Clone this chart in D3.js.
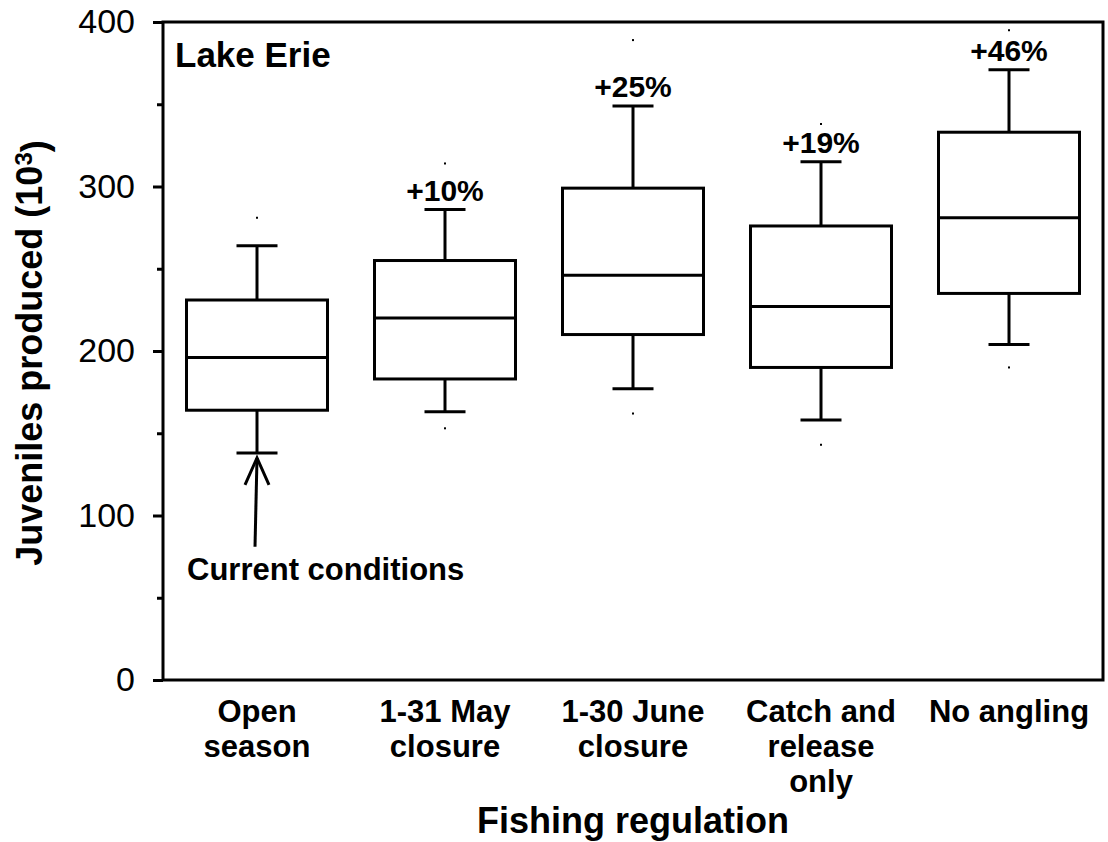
<!DOCTYPE html>
<html>
<head>
<meta charset="utf-8">
<script src="https://cdn.jsdelivr.net/npm/d3@7"></script>
<style>
  body { margin: 0; background: #fff; }
  text { font-family: "Liberation Sans", Arial, sans-serif; fill: #000; }
</style>
</head>
<body>
<script>
var w = 1108, h = 842;
var plotL = 163, plotR = 1103, plotT = 22, plotB = 680;

// regulation scenarios, one line per tspan
var categories = [
    ["Open", "season"],
    ["1-31 May", "closure"],
    ["1-30 June", "closure"],
    ["Catch and", "release", "only"],
    ["No angling"]
];
// box plot stats, juveniles produced (10^3)
var whiskerLow  = [138, 163, 177, 158, 204];
var q1          = [164, 183, 210, 190, 235];
var median      = [196, 220, 246, 227, 281];
var q3          = [231, 255, 299, 276, 333];
var whiskerHigh = [264, 286, 349, 315, 371];
var outlierLow  = [null, 153, 162, 143, 190];
var outlierHigh = [281, 314, 389, 338, 395];
var changeLabels = ["", "+10%", "+25%", "+19%", "+46%"];

var majorTicks = [0, 100, 200, 300, 400];
var minorTicks = [50, 150, 250, 350];

// "current conditions" arrow, in data units
var arrowTip = 135, arrowTail = 81, noteValue = 61;

var data = categories.map(function(c, i){
    return {cat: c, i: i, lo: whiskerLow[i], q1: q1[i], med: median[i], q3: q3[i],
            hi: whiskerHigh[i], olo: outlierLow[i], ohi: outlierHigh[i], lab: changeLabels[i]};
});

var svg = d3.select("body").append("svg")
    .attr("width", w)
    .attr("height", h);

var x = d3.scaleBand()
    .domain(d3.range(categories.length))
    .range([plotL, plotR]);

var y = d3.scaleLinear()
    .domain([0, 400])
    .range([plotB, plotT]);

var boxW = x.bandwidth() * 0.75;
var capW = 41;
function cx(d){ return x(d.i) + x.bandwidth() / 2; }

// y axis, major + minor ticks
var yAxis = svg.append("g")
    .attr("transform", "translate(" + plotL + ",0)")
    .call(d3.axisLeft(y).tickValues(majorTicks).tickSize(10).tickPadding(18));
yAxis.select(".domain").remove();
yAxis.selectAll("line").attr("stroke", "#000").attr("stroke-width", 3);
yAxis.selectAll("text")
    .style("font-family", '"Liberation Sans", Arial, sans-serif')
    .style("font-size", "34px")
    .attr("fill", "#000");

var yMinor = svg.append("g")
    .attr("transform", "translate(" + plotL + ",0)")
    .call(d3.axisLeft(y).tickValues(minorTicks).tickSize(6).tickFormat(""));
yMinor.select(".domain").remove();
yMinor.selectAll("line").attr("stroke", "#000").attr("stroke-width", 3);

// x axis labels
var xAxis = svg.append("g")
    .attr("transform", "translate(0," + plotB + ")")
    .call(d3.axisBottom(x).tickSize(0).tickFormat(""));
xAxis.select(".domain").remove();
xAxis.selectAll(".tick").each(function(i){
    var t = d3.select(this).append("text")
        .attr("text-anchor", "middle")
        .style("font-size", "31px")
        .style("font-weight", "bold");
    categories[i].forEach(function(line, k){
        t.append("tspan")
            .attr("x", 0)
            .attr("y", 42 + k * 35)
            .text(line);
    });
});

// frame
svg.append("rect")
    .attr("x", plotL)
    .attr("y", plotT)
    .attr("width", plotR - plotL)
    .attr("height", plotB - plotT)
    .attr("fill", "none")
    .attr("stroke", "#000")
    .attr("stroke-width", 3);

var boxes = svg.selectAll("g.box")
    .data(data)
    .enter()
    .append("g")
    .attr("class", "box");

// whisker stems
boxes.append("line")
    .attr("x1", cx).attr("x2", cx)
    .attr("y1", function(d){ return y(d.lo); })
    .attr("y2", function(d){ return y(d.hi); })
    .attr("stroke", "#000").attr("stroke-width", 3);

// caps
["lo", "hi"].forEach(function(k){
    boxes.append("line")
        .attr("x1", function(d){ return cx(d) - capW / 2; })
        .attr("x2", function(d){ return cx(d) + capW / 2; })
        .attr("y1", function(d){ return y(d[k]); })
        .attr("y2", function(d){ return y(d[k]); })
        .attr("stroke", "#000").attr("stroke-width", 3);
});

boxes.append("rect")
    .attr("x", function(d){ return cx(d) - boxW / 2; })
    .attr("y", function(d){ return y(d.q3); })
    .attr("width", boxW)
    .attr("height", function(d){ return y(d.q1) - y(d.q3); })
    .attr("fill", "#fff")
    .attr("stroke", "#000")
    .attr("stroke-width", 3);

boxes.append("line")
    .attr("x1", function(d){ return cx(d) - boxW / 2; })
    .attr("x2", function(d){ return cx(d) + boxW / 2; })
    .attr("y1", function(d){ return y(d.med); })
    .attr("y2", function(d){ return y(d.med); })
    .attr("stroke", "#000").attr("stroke-width", 3);

// tiny outlier dots
["olo", "ohi"].forEach(function(k){
    boxes.filter(function(d){ return d[k] != null; })
        .append("rect")
        .attr("x", function(d){ return cx(d) - 1; })
        .attr("y", function(d){ return y(d[k]) - 1; })
        .attr("width", 2)
        .attr("height", 2)
        .attr("fill", "#000");
});

// percent change labels
boxes.filter(function(d){ return d.lab; })
    .append("text")
    .attr("x", cx)
    .attr("y", function(d){ return y(d.hi) - 9; })
    .attr("text-anchor", "middle")
    .style("font-size", "30px")
    .style("font-weight", "bold")
    .text(function(d){ return d.lab; });

// arrow to current conditions
var ax = cx(data[0]);
svg.append("line")
    .attr("x1", ax - 2).attr("y1", y(arrowTail))
    .attr("x2", ax).attr("y2", y(arrowTip))
    .attr("stroke", "#000").attr("stroke-width", 3);
svg.append("path")
    .attr("d", "M" + (ax - 12) + "," + (y(arrowTip) + 27) + "L" + ax + "," + y(arrowTip) + "L" + (ax + 12) + "," + (y(arrowTip) + 27))
    .attr("fill", "none")
    .attr("stroke", "#000").attr("stroke-width", 3);
svg.append("text")
    .attr("x", ax - 70)
    .attr("y", y(noteValue))
    .style("font-size", "31px")
    .style("font-weight", "bold")
    .text("Current conditions");

svg.append("text")
    .attr("x", plotL + 12)
    .attr("y", 67)
    .style("font-size", "35px")
    .style("font-weight", "bold")
    .text("Lake Erie");

// axis titles
svg.append("text")
    .attr("x", (plotL + plotR) / 2)
    .attr("y", 833)
    .attr("text-anchor", "middle")
    .style("font-size", "36px")
    .style("font-weight", "bold")
    .text("Fishing regulation");

var yt = svg.append("text")
    .attr("transform", "translate(42," + ((plotT + plotB) / 2 + 2) + ") rotate(-90)")
    .attr("text-anchor", "middle")
    .style("font-size", "36px")
    .style("font-weight", "bold");
yt.append("tspan").text("Juveniles produced (10");
yt.append("tspan").attr("dy", "-0.4em").style("font-size", "24px").text("3");
yt.append("tspan").attr("dy", "0.4em").text(")");
</script>
</body>
</html>
